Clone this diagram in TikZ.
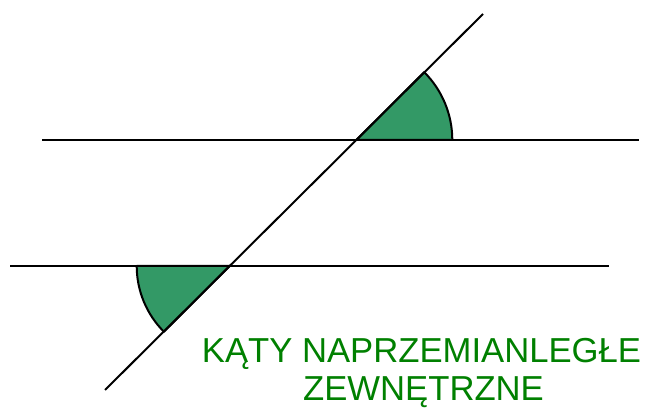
\documentclass[tikz,border=0pt]{standalone}
\usepackage{fontspec}
\setmainfont{Liberation Sans}
\definecolor{sectorgreen}{RGB}{51,153,102}
\definecolor{textgreen}{RGB}{0,128,0}
\begin{document}
\begin{tikzpicture}[x=0.75pt,y=0.75pt,
  lineblk/.style={draw=black,line width=1.5pt},
  sector/.style={fill=sectorgreen,draw=black,line width=1.5pt,line join=round},
  title/.style={text=textgreen,font=\fontsize{26}{30}\selectfont,anchor=base,inner sep=0pt}]
\useasboundingbox (0,0) rectangle (646,409);
% intersections
\coordinate (P) at (356.3,269);
\coordinate (Q) at (229.7,143);
% line endpoints
\coordinate (t1) at (105,19);
\coordinate (t2) at (483,395);
\coordinate (a1) at (42,269);
\coordinate (a2) at (639,269);
\coordinate (b1) at (10,143);
\coordinate (b2) at (609,143);
% sectors
\path[sector] (P) -- ++(0:72pt) arc[start angle=0,end angle=45,radius=72pt] -- cycle;
\path[sector] (Q) -- ++(180:69.75pt) arc[start angle=180,end angle=225,radius=69.75pt] -- cycle;
% lines
\draw[lineblk] (a1) -- (a2);
\draw[lineblk] (b1) -- (b2);
\draw[lineblk] (t1) -- (t2);
% text
\node[title] (title1) at (421.5,46) {KĄTY NAPRZEMIANLEGŁE};
\node[title] (title2) at (423.5,8) {ZEWNĘTRZNE};
\end{tikzpicture}
\end{document}
